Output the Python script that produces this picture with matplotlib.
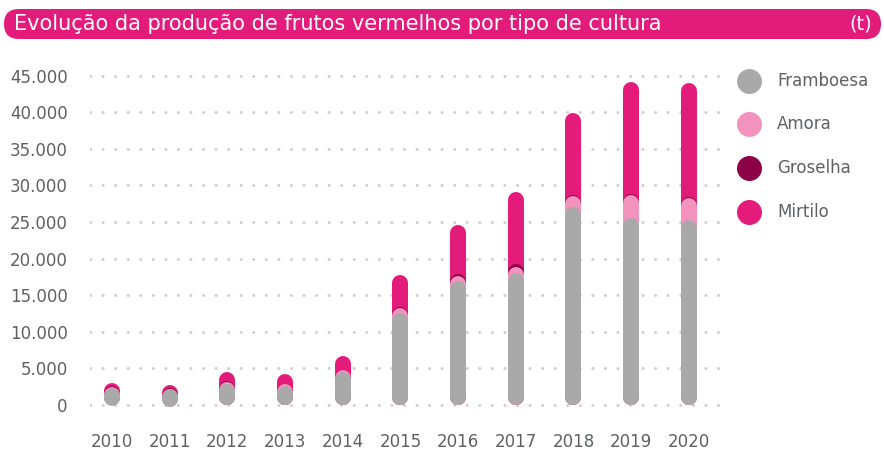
import matplotlib.pyplot as plt
from matplotlib.patches import FancyBboxPatch
from matplotlib.lines import Line2D
from matplotlib.transforms import IdentityTransform
import numpy as np

plt.rcParams['path.simplify'] = False

anos = ['2010', '2011', '2012', '2013', '2014', '2015', '2016', '2017', '2018', '2019', '2020']
framboesa = [2250, 1800, 2900, 2600, 4500, 12600, 16900, 18000, 27100, 25500, 25300]
amora = [250, 200, 300, 230, 250, 600, 750, 900, 1400, 3200, 3000]
groselha = [50, 50, 50, 50, 50, 150, 200, 300, 150, 100, 150]
mirtilo = [450, 650, 1300, 1350, 1850, 4400, 6700, 9900, 11300, 15300, 15600]

series = ['Framboesa', 'Amora', 'Groselha', 'Mirtilo']
cores = ['#a8a9a8', '#f292bd', '#8c0047', '#e31b7a']
rosa = '#e31b7a'
cinza_txt = '#5f6062'
fonte = 'DejaVu Sans'

W, H = 884, 454
fig = plt.figure(figsize=(W / 100, H / 100), dpi=100)

# eixo posicionado em pixels
y0_px, y45_px = 405, 75.7
k = (y0_px - y45_px) / 45000
ymin, ymax = -1000, 46000
bot_px = y0_px + 1000 * k
top_px = y45_px - 1000 * k
ax = fig.add_axes([90 / W, 1 - bot_px / H, 630 / W, (bot_px - top_px) / H])
ax.set_xlim(-0.38, 10.54)
ax.set_ylim(ymin, ymax)

# grelha pontilhada
for v in range(0, 45001, 5000):
    ax.axhline(v, color='#cfcfcf', lw=2.2, linestyle=(0, (0.01, 4.1)),
               dash_capstyle='round', zorder=0)

# barras empilhadas com pontas arredondadas
dados = np.array([framboesa, amora, groselha, mirtilo])
cum = np.cumsum(dados, axis=0)
largura_px = 16
r = (largura_px / 2) / k  # raio em unidades de dados
meio_min = 1.0 / k        # meio comprimento minimo (1 px)
lw_pt = largura_px * 72 / 100
x = np.arange(len(anos))
for i in range(3, -1, -1):
    for xi, v in zip(x, cum[i]):
        a = r
        b = v - r
        if b - a < 2 * meio_min:
            a, b = v / 2 - meio_min, v / 2 + meio_min
        ax.plot([xi, xi], [a, b], color=cores[i], lw=lw_pt,
                solid_capstyle='round', zorder=2 + (3 - i))

ax.set_xticks(x)
ax.set_xticklabels(anos)
ax.set_yticks(range(0, 45001, 5000))
ax.set_yticklabels(['0'] + [f'{v // 1000}.000' for v in range(5000, 45001, 5000)])
ax.tick_params(length=0, colors=cinza_txt, labelsize=12)
ax.tick_params(axis='y', pad=16)
ax.tick_params(axis='x', pad=15)
for lab in ax.get_xticklabels() + ax.get_yticklabels():
    lab.set_fontfamily(fonte)
    lab.set_color(cinza_txt)
for s in ax.spines.values():
    s.set_visible(False)

# barra do título
faixa = FancyBboxPatch((4, H - 39), 877, 30,
                       boxstyle='round,pad=0,rounding_size=15',
                       transform=IdentityTransform(), facecolor=rosa,
                       edgecolor='none', figure=fig)
fig.patches.append(faixa)
fig.text(14 / W, 1 - 24 / H, 'Evolução da produção de frutos vermelhos por tipo de cultura',
         color='white', fontsize=15, fontfamily=fonte, va='center', ha='left')
fig.text(872 / W, 1 - 24 / H, '(t)', color='white', fontsize=14,
         fontfamily=fonte, va='center', ha='right')

# legenda
ys = [81, 124, 168, 212]
for nome, cor, yy in zip(series, cores, ys):
    fig.add_artist(Line2D([749 / W], [1 - yy / H], marker='o', markersize=18,
                          color=cor, markeredgewidth=0, transform=fig.transFigure))
    fig.text(777 / W, 1 - yy / H, nome, color=cinza_txt, fontsize=12,
             fontfamily=fonte, va='center', ha='left')

fig.savefig('out.png', dpi=100)
